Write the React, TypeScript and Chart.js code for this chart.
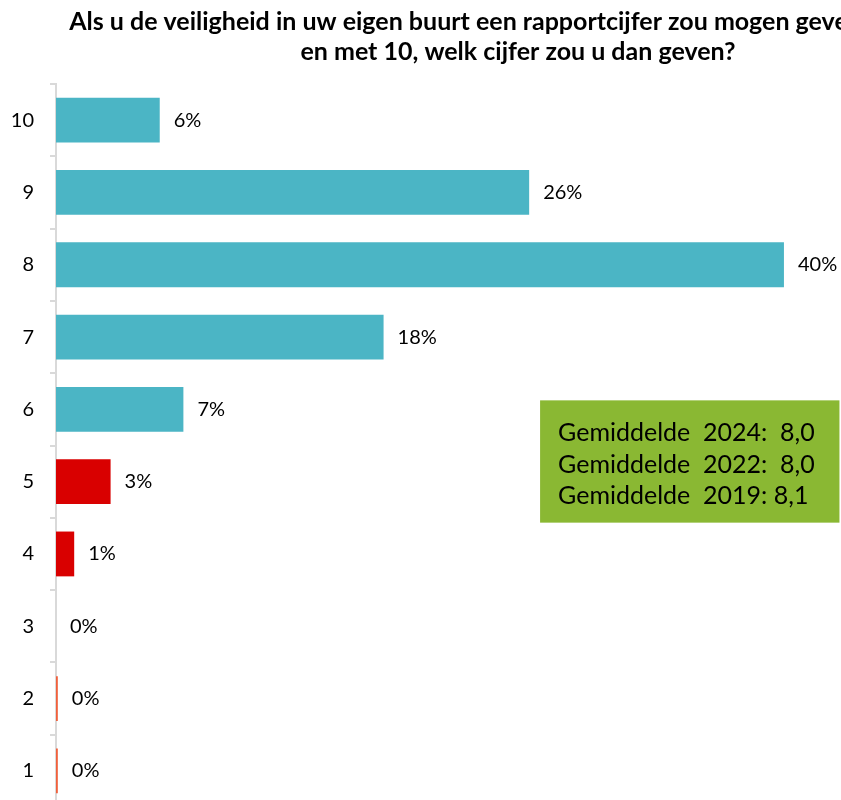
import React, { useEffect, useRef } from "react";
import { Chart, registerables } from "chart.js";

Chart.register(...registerables);

const categories = ["10", "9", "8", "7", "6", "5", "4", "3", "2", "1"];
const values = [5.7, 26, 40, 18, 7, 3, 1, 0, 0.1, 0.1];
const valueLabels = ["6%", "26%", "40%", "18%", "7%", "3%", "1%", "0%", "0%", "0%"];
const barColors = [
  "#4BB5C5", "#4BB5C5", "#4BB5C5", "#4BB5C5", "#4BB5C5",
  "#D90000", "#D90000", "#D90000", "#F0603C", "#F0603C",
];
const titleLines = [
  "Als u de veiligheid in uw eigen buurt een rapportcijfer zou mogen geven van 1 tot",
  "en met 10, welk cijfer zou u dan geven?",
];
const averageLines = [
  "Gemiddelde  2024:  8,0",
  "Gemiddelde  2022:  8,0",
  "Gemiddelde  2019: 8,1",
];

const FONT = "Lato, 'Noto Sans', sans-serif";

const valueLabelPlugin = {
  id: "valueLabels",
  afterDatasetsDraw(chart: any) {
    const ctx = chart.ctx;
    const meta = chart.getDatasetMeta(0);
    ctx.save();
    ctx.font = `20px ${FONT}`;
    ctx.fillStyle = "#000";
    ctx.textBaseline = "middle";
    ctx.textAlign = "left";
    meta.data.forEach((bar: any, i: number) => {
      ctx.fillText(valueLabels[i], bar.x + 14, bar.y);
    });
    ctx.restore();
  },
};

const averageBoxPlugin = {
  id: "averageBox",
  afterDraw(chart: any) {
    const ctx = chart.ctx;
    const x = chart.scales.x;
    const y = chart.scales.y;
    const left = x.getPixelForValue(26.6);
    const right = x.getPixelForValue(43.05);
    const top = y.getPixelForValue(4) - 9;
    const bottom = y.getPixelForValue(5) + 41;
    ctx.save();
    ctx.fillStyle = "#8AB833";
    ctx.fillRect(left, top, right - left, bottom - top);
    ctx.font = `25px ${FONT}`;
    ctx.fillStyle = "#000";
    ctx.textBaseline = "middle";
    ctx.textAlign = "left";
    const lh = 31.5;
    const startY = (top + bottom) / 2 - lh + 3;
    averageLines.forEach((t, i) => {
      ctx.fillText(t, left + 18, startY + i * lh);
    });
    ctx.restore();
  },
};

export default function App() {
  const ref = useRef<HTMLCanvasElement>(null);
  useEffect(() => {
    if (!ref.current) return;
    const chart = new Chart(ref.current, {
      type: "bar",
      data: {
        labels: categories,
        datasets: [
          {
            data: values,
            backgroundColor: barColors,
            borderWidth: 0,
            barPercentage: 0.62,
            categoryPercentage: 1,
          },
        ],
      },
      options: {
        indexAxis: "y",
        responsive: false,
        animation: false,
        layout: { padding: 0 },
        plugins: {
          legend: { display: false },
          tooltip: { enabled: false },
          title: {
            display: true,
            text: titleLines,
            color: "#000",
            font: { family: FONT, size: 25, weight: "bold", lineHeight: 1.2 },
            padding: { top: 7, bottom: 17 },
          },
        },
        scales: {
          x: {
            display: false,
            min: 0,
            max: 53.85,
          },
          y: {
            afterFit: (s: any) => {
              s.width = 56;
            },
            grid: {
              offset: true,
              drawOnChartArea: false,
              drawTicks: true,
              tickLength: 6,
              color: "#D9D9D9",
              lineWidth: 2,
            },
            border: { display: true, color: "#D9D9D9", width: 2 },
            ticks: {
              color: "#000",
              font: { family: FONT, size: 20 },
              padding: 16,
            },
          },
        },
      },
      plugins: [valueLabelPlugin, averageBoxPlugin],
    });
    return () => chart.destroy();
  }, []);
  return (
    <div
      style={{
        position: "fixed",
        left: 0,
        top: 0,
        width: 841,
        height: 800,
        overflow: "hidden",
        background: "#fff",
      }}
    >
      <canvas ref={ref} width={1036} height={835} style={{ display: "block" }} />
    </div>
  );
}
